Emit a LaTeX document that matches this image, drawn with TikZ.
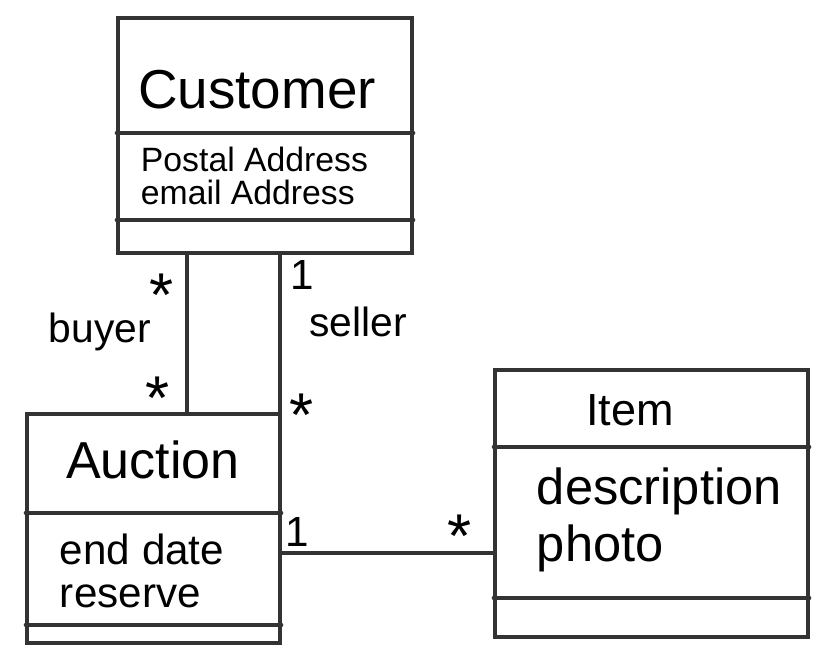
\documentclass[tikz,border=0pt]{standalone}
\usepackage{fontspec}
\setmainfont{Liberation Sans}

\tikzset{
  pen/.style={line width=2.3pt, draw=black!80, line cap=round},
  classbox/.style={pen, rectangle, inner sep=0pt},
  mult/.style={font=\fontsize{30}{30}\selectfont},
  star/.style={font=\fontsize{44}{44}\selectfont, inner sep=0pt},
  role/.style={font=\fontsize{29}{30}\selectfont},
}

\begin{document}
\begin{tikzpicture}[x=0.025cm,y=-0.025cm]
  \useasboundingbox (0,0) rectangle (820,648);
  % class boxes
  \node [classbox, minimum width=7.35cm, minimum height=5.875cm] (customer) at (265,135.5) {};
  \node [classbox, minimum width=6.325cm, minimum height=5.725cm] (auction) at (153.5,528.5) {};
  \node [classbox, minimum width=7.825cm, minimum height=6.675cm] (item) at (651.5,503.5) {};
  % compartments
  \draw [pen] (customer.west |- 0,133) -- (customer.east |- 0,133);
  \draw [pen] (customer.west |- 0,220) -- (customer.east |- 0,220);
  \draw [pen] (auction.west |- 0,513) -- (auction.east |- 0,513);
  \draw [pen] (auction.west |- 0,625) -- (auction.east |- 0,625);
  \draw [pen] (item.west |- 0,447) -- (item.east |- 0,447);
  \draw [pen] (item.west |- 0,598) -- (item.east |- 0,598);
  % names and attributes
  \node [font=\fontsize{39}{40}\selectfont] (customername) at (257,90) {Customer};
  \node [font=\fontsize{24}{23}\selectfont, anchor=west, align=left] (customerattr) at (136,176) {Postal Address\\email Address};
  \node [font=\fontsize{37}{40}\selectfont] (auctionname) at (153,460) {Auction};
  \node [font=\fontsize{30}{31}\selectfont, anchor=west, align=left] (auctionattr) at (55,571) {end date\\reserve};
  \node [font=\fontsize{32}{34}\selectfont] (itemname) at (630,410) {Item};
  \node [font=\fontsize{36}{41}\selectfont, anchor=west, align=left] (itemattr) at (532,520) {description\\photo};
  % associations
  \coordinate (buyerx) at (187,0);
  \coordinate (sellerx) at (280,0);
  \coordinate (itemy) at (0,553);
  \draw [pen] (customer.south -| buyerx) -- (auction.north -| buyerx);
  \draw [pen] (customer.south -| sellerx) -- (auction.north -| sellerx);
  \draw [pen] (auction.east |- itemy) -- (item.west |- itemy);
  % role names and multiplicities
  \node [role] (buyer) at (100,332) {buyer};
  \node [role] (seller) at (358,322) {seller};
  \node [star] (buyertop) at (162,295) {*};
  \node [star] (buyerbot) at (158,398) {*};
  \node [mult] (sellertop) at (302,275) {1};
  \node [star] (sellerbot) at (302,415) {*};
  \node [mult] (auctionend) at (297,532) {1};
  \node [star] (itemend) at (460,536) {*};
\end{tikzpicture}
\end{document}
